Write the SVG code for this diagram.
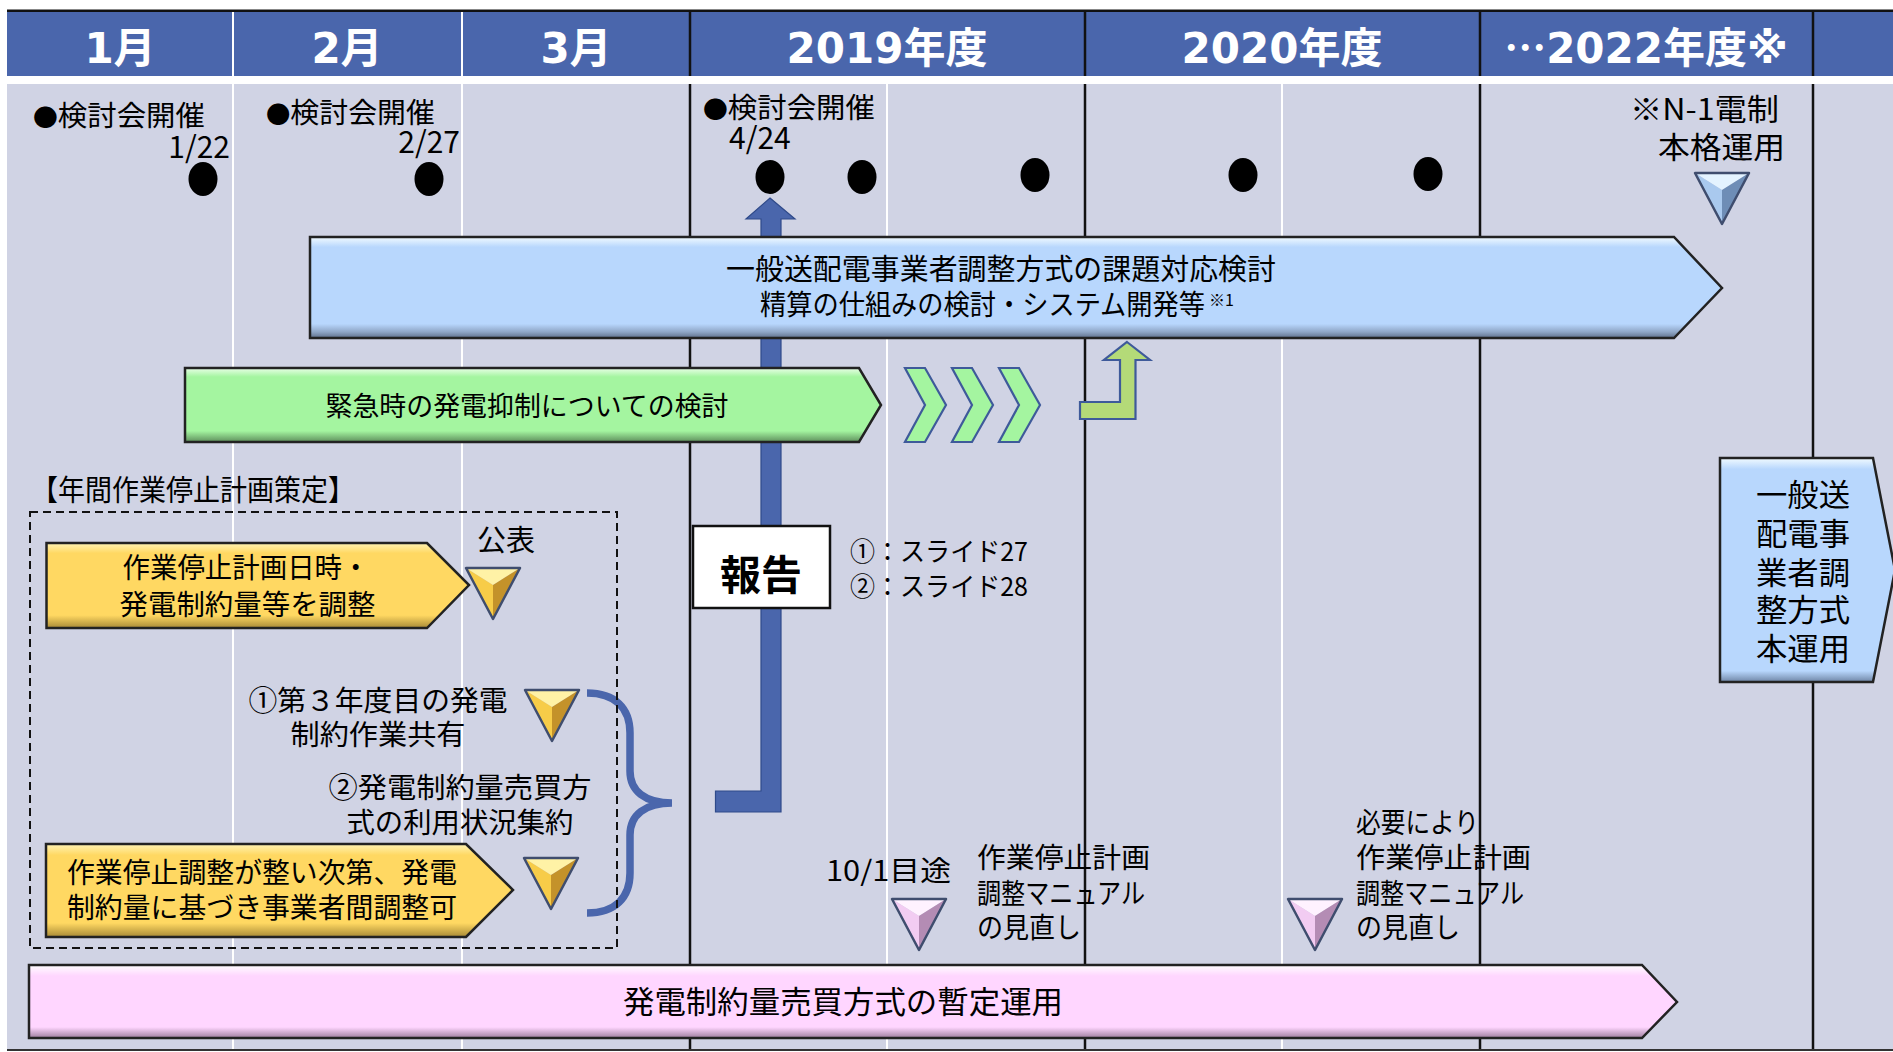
<svg xmlns="http://www.w3.org/2000/svg" xmlns:xlink="http://www.w3.org/1999/xlink" width="1893" height="1052" viewBox="0 0 1893 1052">
<defs>
<style>
.t { font-family: "Noto Sans CJK JP", "Noto Sans CJK SC", sans-serif; fill:#000; }
.h { font-family: "DejaVu Sans", "Noto Sans CJK JP", sans-serif; font-weight:bold; font-size:42px; fill:#fff; text-anchor:middle; }
.cjk { font-family: "Noto Sans CJK JP", sans-serif; }
.wl { stroke:#fff; stroke-width:2; }
.bl { stroke:#111; stroke-width:2.5; }
.bar { stroke:#222; stroke-width:2.5; stroke-linejoin:miter; }
.chev { fill:#A4F5A0; stroke:#3E5A9A; stroke-width:2.2; }
.dot { fill:#000; }
.tri { fill:none; stroke:#3F4D6E; stroke-width:2.5; stroke-linejoin:round; }
</style>
<linearGradient id="gBlue" x1="0" y1="0" x2="0" y2="1">
<stop offset="0" stop-color="#F2FBFF"/><stop offset="0.1" stop-color="#B8D7FD"/><stop offset="0.86" stop-color="#B8D7FD"/><stop offset="0.94" stop-color="#8FA6C6"/><stop offset="1" stop-color="#5E6F8A"/>
</linearGradient>
<linearGradient id="gBlueV" x1="0" y1="0" x2="0" y2="1">
<stop offset="0" stop-color="#F2FBFF"/><stop offset="0.05" stop-color="#B8D7FD"/><stop offset="0.95" stop-color="#B8D7FD"/><stop offset="1" stop-color="#6F85A5"/>
</linearGradient>
<linearGradient id="gGreen" x1="0" y1="0" x2="0" y2="1">
<stop offset="0" stop-color="#EAFFE8"/><stop offset="0.12" stop-color="#A4F5A0"/><stop offset="0.85" stop-color="#A4F5A0"/><stop offset="1" stop-color="#5E8F5C"/>
</linearGradient>
<linearGradient id="gGold" x1="0" y1="0" x2="0" y2="1">
<stop offset="0" stop-color="#FFF3B5"/><stop offset="0.12" stop-color="#FFD862"/><stop offset="0.85" stop-color="#FFD862"/><stop offset="1" stop-color="#A88A36"/>
</linearGradient>
<linearGradient id="gPink" x1="0" y1="0" x2="0" y2="1">
<stop offset="0" stop-color="#FFFFFF"/><stop offset="0.15" stop-color="#FFD6FF"/><stop offset="0.85" stop-color="#FFD6FF"/><stop offset="1" stop-color="#9E7E9E"/>
</linearGradient>
<g id="triGold">
<polygon points="0,0 54,0 27,17" fill="#FFF2A6"/>
<polygon points="0,0 27,17 27,51" fill="#F7CC48"/>
<polygon points="54,0 27,17 27,51" fill="#C4922A"/>
<polygon class="tri" points="0,0 54,0 27,51"/>
</g>
<g id="triPink">
<polygon points="0,0 54,0 27,17" fill="#FFF2FF"/>
<polygon points="0,0 27,17 27,51" fill="#F2CCF2"/>
<polygon points="54,0 27,17 27,51" fill="#B48CB4"/>
<polygon class="tri" points="0,0 54,0 27,51"/>
</g>
<g id="triBlue">
<polygon points="0,0 54,0 27,17" fill="#E4F3FF"/>
<polygon points="0,0 27,17 27,51" fill="#A9C9EE"/>
<polygon points="54,0 27,17 27,51" fill="#6E8DB6"/>
<polygon class="tri" points="0,0 54,0 27,51"/>
</g>
<polygon id="chev" class="chev" points="0,0 20,0 41,37 20,74 0,74 20,37"/>
</defs>

<rect x="0" y="0" width="1893" height="1052" fill="#fff"/>

<g id="grid">
<line x1="7" y1="11" x2="1893" y2="11" stroke="#111" stroke-width="3"/>
<rect x="7" y="12" width="1886" height="64" fill="#4A66AC"/>
<rect x="7" y="84" width="1886" height="966" fill="#D0D3E4"/>
<line x1="7" y1="1050" x2="1893" y2="1050" stroke="#333" stroke-width="2"/>
<line class="wl" x1="233" y1="12" x2="233" y2="76"/>
<line class="wl" x1="462" y1="12" x2="462" y2="76"/>
<line class="bl" x1="690" y1="12" x2="690" y2="76"/>
<line class="bl" x1="1085" y1="12" x2="1085" y2="76"/>
<line class="bl" x1="1480" y1="12" x2="1480" y2="76"/>
<line class="bl" x1="1813" y1="12" x2="1813" y2="76"/>
<line class="wl" x1="233" y1="84" x2="233" y2="1049"/>
<line class="wl" x1="462" y1="84" x2="462" y2="1049"/>
<line class="wl" x1="887" y1="84" x2="887" y2="1049"/>
<line class="wl" x1="1282" y1="84" x2="1282" y2="1049"/>
<line class="bl" x1="690" y1="84" x2="690" y2="1049"/>
<line class="bl" x1="1085" y1="84" x2="1085" y2="1049"/>
<line class="bl" x1="1480" y1="84" x2="1480" y2="1049"/>
<line class="bl" x1="1813" y1="84" x2="1813" y2="1049"/>
</g>

<g id="header">
<text class="h" x="120" y="63">1月</text>
<text class="h" x="347" y="63">2月</text>
<text class="h" x="576" y="63">3月</text>
<text class="h" x="887" y="63">2019年度</text>
<text class="h" x="1282" y="63">2020年度</text>
<text class="h" x="1646" y="63"><tspan class="cjk">…</tspan>2022年度※</text>
</g>

<g id="meetings">
<text class="t" x="33" y="126" font-size="28.5" textLength="172" lengthAdjust="spacingAndGlyphs"><tspan font-size="24">●</tspan>検討会開催</text>
<text class="t" x="230" y="158" font-size="30" text-anchor="end">1/22</text>
<ellipse class="dot" cx="203" cy="179" rx="14.5" ry="17"/>
<text class="t" x="266" y="123" font-size="28.5" textLength="169" lengthAdjust="spacingAndGlyphs"><tspan font-size="24">●</tspan>検討会開催</text>
<text class="t" x="460" y="153" font-size="30" text-anchor="end">2/27</text>
<ellipse class="dot" cx="429" cy="179" rx="14.5" ry="17"/>
<text class="t" x="703" y="118" font-size="28.5" textLength="172" lengthAdjust="spacingAndGlyphs"><tspan font-size="24">●</tspan>検討会開催</text>
<text class="t" x="729" y="149" font-size="30">4/24</text>
<ellipse class="dot" cx="770" cy="177" rx="14.5" ry="17"/>
<ellipse class="dot" cx="862" cy="177" rx="14.5" ry="17"/>
<ellipse class="dot" cx="1035" cy="175" rx="14.5" ry="17"/>
<ellipse class="dot" cx="1243" cy="175" rx="14.5" ry="17"/>
<ellipse class="dot" cx="1428" cy="174" rx="14.5" ry="17"/>
</g>

<g id="connectors">
<polygon points="770,198 795,219 781,219 781,812 715.5,812 715.5,791 761,791 761,219 746,219" fill="#4A66AC" stroke="#2F4A8A" stroke-width="1.2"/>
<polygon points="1127,342 1150,360 1135.5,360 1135.5,419 1080,419 1080,402 1120,402 1120,360 1104,360" fill="#B4DA78" stroke="#3E5A9A" stroke-width="2.2"/>
<use xlink:href="#chev" href="#chev" x="905" y="368"/>
<use xlink:href="#chev" href="#chev" x="952" y="368"/>
<use xlink:href="#chev" href="#chev" x="999" y="368"/>
<path d="M587,693 C615,693 630,708 630,733 V771 C630,791 645,803 672,803 C645,803 630,815 630,835 V873 C630,898 615,913 587,913" fill="none" stroke="#4A66AC" stroke-width="7.5"/>
</g>

<g id="n1-notice">
<text class="t" x="1779" y="120" font-size="30" text-anchor="end" textLength="149" lengthAdjust="spacingAndGlyphs">※N-1電制</text>
<text class="t" x="1785" y="158" font-size="30" text-anchor="end" textLength="127" lengthAdjust="spacingAndGlyphs">本格運用</text>
<use xlink:href="#triBlue" href="#triBlue" x="1695" y="173"/>
</g>

<g id="blue-arrow">
<polygon class="bar" points="310,237 1674,237 1722,288 1674,338 310,338" fill="url(#gBlue)"/>
<text class="t" x="1001" y="280" font-size="29" text-anchor="middle" textLength="550" lengthAdjust="spacingAndGlyphs">一般送配電事業者調整方式の課題対応検討</text>
<text class="t" x="760" y="315" font-size="28" textLength="445" lengthAdjust="spacingAndGlyphs">精算の仕組みの検討・システム開発等</text>
<text class="t" x="1209" y="306" font-size="16">※1</text>
</g>

<g id="green-arrow">
<polygon class="bar" points="185,368 859,368 881,405 859,442 185,442" fill="url(#gGreen)"/>
<text class="t" x="527" y="416" font-size="27" text-anchor="middle" textLength="403" lengthAdjust="spacingAndGlyphs">緊急時の発電抑制についての検討</text>
</g>

<g id="report">
<rect x="693" y="526" width="137" height="82" fill="#fff" stroke="#111" stroke-width="2.5"/>
<text class="t" x="761" y="590" font-size="41" font-weight="bold" text-anchor="middle" textLength="82" lengthAdjust="spacingAndGlyphs">報告</text>
<text class="t" x="850" y="561" font-size="26" textLength="178" lengthAdjust="spacingAndGlyphs">①：スライド27</text>
<text class="t" x="850" y="596" font-size="26" textLength="178" lengthAdjust="spacingAndGlyphs">②：スライド28</text>
</g>

<g id="annual-plan">
<text class="t" x="31" y="501" font-size="29" textLength="324" lengthAdjust="spacingAndGlyphs">【年間作業停止計画策定】</text>
<rect x="30" y="512" width="587" height="436" fill="none" stroke="#111" stroke-width="2" stroke-dasharray="8 5"/>
</g>

<g id="gold-arrow-1">
<polygon class="bar" points="46.5,543 427,543 469,585 427,628 46.5,628" fill="url(#gGold)"/>
<text class="t" x="246" y="578" font-size="28.5" text-anchor="middle" textLength="247" lengthAdjust="spacingAndGlyphs">作業停止計画日時・</text>
<text class="t" x="247.5" y="615" font-size="28.5" text-anchor="middle" textLength="256" lengthAdjust="spacingAndGlyphs">発電制約量等を調整</text>
</g>

<g id="publish">
<text class="t" x="477" y="551" font-size="29" textLength="58" lengthAdjust="spacingAndGlyphs">公表</text>
<use xlink:href="#triGold" href="#triGold" x="466" y="568"/>
</g>

<g id="share-3rd-year">
<text class="t" x="378" y="711" font-size="28.5" text-anchor="middle" textLength="259" lengthAdjust="spacingAndGlyphs">①第３年度目の発電</text>
<text class="t" x="378" y="745" font-size="28.5" text-anchor="middle" textLength="175" lengthAdjust="spacingAndGlyphs">制約作業共有</text>
<use xlink:href="#triGold" href="#triGold" x="525" y="690"/>
</g>

<g id="usage-summary">
<text class="t" x="460" y="798" font-size="28.5" text-anchor="middle" textLength="263" lengthAdjust="spacingAndGlyphs">②発電制約量売買方</text>
<text class="t" x="460" y="833" font-size="28.5" text-anchor="middle" textLength="227" lengthAdjust="spacingAndGlyphs">式の利用状況集約</text>
<use xlink:href="#triGold" href="#triGold" x="524" y="858"/>
</g>

<g id="gold-arrow-2">
<polygon class="bar" points="46,844 466,844 513,890 466,937 46,937" fill="url(#gGold)"/>
<text class="t" x="67" y="883" font-size="28" textLength="390" lengthAdjust="spacingAndGlyphs">作業停止調整が整い次第、発電</text>
<text class="t" x="67" y="918" font-size="28" textLength="390" lengthAdjust="spacingAndGlyphs">制約量に基づき事業者間調整可</text>
</g>

<g id="manual-review-1">
<text class="t" x="826" y="881" font-size="28" textLength="125" lengthAdjust="spacingAndGlyphs">10/1目途</text>
<use xlink:href="#triPink" href="#triPink" x="892" y="899"/>
<text class="t" x="977" y="868" font-size="28" textLength="173" lengthAdjust="spacingAndGlyphs">作業停止計画</text>
<text class="t" x="977" y="904" font-size="28" textLength="168" lengthAdjust="spacingAndGlyphs">調整マニュアル</text>
<text class="t" x="977" y="938" font-size="28" textLength="104" lengthAdjust="spacingAndGlyphs">の見直し</text>
</g>

<g id="manual-review-2">
<use xlink:href="#triPink" href="#triPink" x="1288" y="899"/>
<text class="t" x="1356" y="833" font-size="28" textLength="123" lengthAdjust="spacingAndGlyphs">必要により</text>
<text class="t" x="1356" y="868" font-size="28" textLength="175" lengthAdjust="spacingAndGlyphs">作業停止計画</text>
<text class="t" x="1356" y="904" font-size="28" textLength="168" lengthAdjust="spacingAndGlyphs">調整マニュアル</text>
<text class="t" x="1356" y="938" font-size="28" textLength="104" lengthAdjust="spacingAndGlyphs">の見直し</text>
</g>

<g id="pink-arrow">
<polygon class="bar" points="29,965 1642,965 1677,1002 1642,1038 29,1038" fill="url(#gPink)"/>
<text class="t" x="843" y="1013" font-size="31" text-anchor="middle" textLength="440" lengthAdjust="spacingAndGlyphs">発電制約量売買方式の暫定運用</text>
</g>

<g id="full-operation">
<polygon class="bar" points="1720,458 1873,458 1895,570 1873,682 1720,682" fill="url(#gBlueV)"/>
<text class="t" x="1803" y="506" font-size="31" text-anchor="middle" textLength="94" lengthAdjust="spacingAndGlyphs">一般送</text>
<text class="t" x="1803" y="545" font-size="31" text-anchor="middle" textLength="94" lengthAdjust="spacingAndGlyphs">配電事</text>
<text class="t" x="1803" y="584" font-size="31" text-anchor="middle" textLength="94" lengthAdjust="spacingAndGlyphs">業者調</text>
<text class="t" x="1803" y="621" font-size="31" text-anchor="middle" textLength="94" lengthAdjust="spacingAndGlyphs">整方式</text>
<text class="t" x="1803" y="660" font-size="31" text-anchor="middle" textLength="94" lengthAdjust="spacingAndGlyphs">本運用</text>
</g>
</svg>
